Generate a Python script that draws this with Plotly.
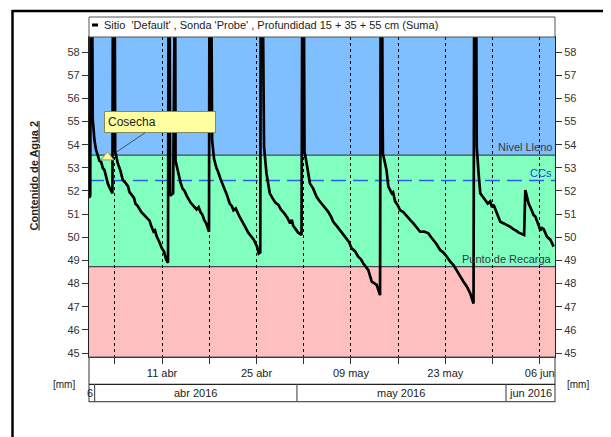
import pandas as pd
import plotly.graph_objects as go

# ---------------- data ----------------
# days since 2016-04-01 00:00 and soil water content (mm); 62 = irrigation spike beyond the top of the chart
dias = [-0.83, -0.65, -0.58, -0.39, -0.28, -0.18, -0.03, 0.19, 0.46, 0.71, 0.97, 1.20, 1.46, 1.71, 1.95, 2.20, 2.45, 2.64,
        2.72, 2.97, 3.05, 3.24, 3.43, 3.80, 4.18, 4.58, 4.96, 5.17, 5.47, 5.84, 6.06, 6.40, 6.91, 7.28, 7.65, 8.14, 8.44,
        8.74, 8.96, 9.18, 9.60, 9.93, 10.30, 10.59, 10.88,
        10.97, 11.12, 11.19, 11.64, 11.71, 11.93, 12.00, 12.23, 12.45, 12.75, 13.05, 13.34, 13.64, 13.94, 14.23, 14.68,
        15.13, 15.42, 15.68, 16.02, 16.26, 16.54, 16.84, 16.96,
        17.03, 17.28, 17.42, 17.70, 18.05, 18.28, 18.69, 19.14, 19.59, 20.03, 20.33, 20.59, 20.92, 21.47, 21.89, 22.33,
        22.78, 23.21, 23.60, 24.07, 24.34, 24.56,
        24.64, 24.89, 25.01, 25.12, 25.48, 25.75, 25.97, 26.39, 26.79, 27.25, 27.61, 28.13, 28.57, 28.99, 29.24, 29.44,
        29.87, 30.18, 30.68,
        30.80, 31.00, 31.06, 31.12, 31.43, 31.62, 31.92, 32.41, 32.91, 33.26, 33.66, 34.15, 34.64, 35.04, 35.38, 35.86,
        36.37, 36.82, 37.37, 37.71, 38.11, 38.60, 39.09, 39.49, 39.84, 40.24, 40.58, 41.09, 41.43, 41.83, 42.10, 42.32,
        42.42, 42.62, 42.69, 42.75, 43.06, 43.28, 43.55, 44.05, 44.25, 44.55, 44.92, 45.29, 45.74, 46.29, 46.78, 47.27,
        47.75, 48.26, 48.86, 49.49, 49.90, 50.24, 50.71, 51.23, 51.68, 52.23, 52.72, 53.21, 53.69, 54.21, 54.65, 55.20,
        55.69, 56.18,
        56.29, 56.55, 56.66, 56.93, 57.18, 57.55, 57.92, 58.29, 58.66, 58.91, 59.15, 59.65, 60.15, 60.67, 61.14, 61.63,
        62.08, 62.37, 62.89, 63.37, 63.68, 63.86, 64.08, 64.35, 64.75, 65.09, 65.34, 65.59, 65.86, 66.08, 66.34, 66.58,
        67.08, 67.57, 68.06]
contenido = [51.7, 51.8, 62, 62, 55.1, 54.6, 54.2, 53.8, 53.48, 53.3, 53.26, 53.0, 52.9, 52.6, 52.33, 52.15, 51.97, 51.9,
             62, 62, 53.7, 53.4, 53.2, 52.9, 52.47, 52.35, 52.2, 51.95, 51.85, 51.7, 51.45, 51.35, 51.1, 50.98, 50.85,
             50.72, 50.45, 50.25, 50.3, 50.05, 49.8, 49.55, 49.37, 49.05, 48.9,
             62, 62, 51.8, 51.9, 62, 62, 53.3, 53.0, 52.6, 52.35, 52.1, 52.0, 51.8, 51.65, 51.5, 51.35,
             51.2, 51.3, 51.1, 50.95, 50.74, 50.6, 50.3, 50.24,
             62, 62, 54.2, 53.4, 53.0, 52.85, 52.5, 52.2, 51.85, 51.46, 51.35, 51.17, 51.25, 50.9, 50.65, 50.45,
             50.2, 50.02, 49.9, 49.6, 49.3, 49.35,
             62, 62, 55.2, 53.9, 52.76, 52.3, 51.9, 51.68, 51.5, 51.4, 51.2, 51.03, 50.85, 50.6, 50.75, 50.5,
             50.31, 50.2, 50.1,
             62, 62, 55.2, 53.7, 53.2, 52.8, 52.33, 52.1, 51.75, 51.6, 51.46, 51.25, 51.1, 50.9, 50.67, 50.5,
             50.3, 50.15, 49.95, 49.8, 49.52, 49.4, 49.16, 49.05, 48.87, 48.7, 48.58, 48.08, 48.0, 47.94, 47.7, 47.5,
             62, 62, 55.5, 53.6, 53.2, 52.9, 52.2, 51.9, 51.95, 51.55, 51.4, 51.17, 51.1, 50.9, 50.75, 50.6,
             50.4, 50.24, 50.25, 50.17, 50.0, 49.88, 49.7, 49.45, 49.35, 49.16, 48.95, 48.8, 48.55, 48.3, 48.1, 47.87,
             47.58, 47.14,
             62, 62, 53.9, 52.76, 51.9, 51.75, 51.6, 51.46, 51.55, 51.3, 51.4, 51.03, 50.67, 50.6, 50.53, 50.45,
             50.35, 50.31, 50.2, 50.14, 50.1, 52.04, 51.8, 51.46, 51.2, 50.96, 50.9, 50.74, 50.5, 50.3, 50.4, 50.35,
             50.02, 49.9, 49.6]

nivel_lleno = 53.55
ccs = 52.45
punto_recarga = 48.73
y_min, y_max = 44.83, 58.65
y_ticks = list(range(45, 59))

x_inicio, x_fin = "2016-03-31 04:00", "2016-06-08 06:15"
etiquetas_fecha = ["2016-04-11", "2016-04-25", "2016-05-09", "2016-05-23", "2016-06-06"]
etiquetas_texto = ["11 abr", "25 abr", "09 may", "23 may", "06 jun"]
semanas_menores = ["2016-04-04", "2016-04-18", "2016-05-02", "2016-05-16", "2016-05-30"]
meses_inicio = ["2016-04-01", "2016-05-01", "2016-06-01"]
meses_centro = ["2016-04-16", "2016-05-16 12:00", "2016-06-04 15:00"]
meses_texto = ["abr 2016", "may 2016", "jun 2016"]

cosecha_dia = 1.9
cosecha_valor = 53.46
flecha_dia = 3.09
flecha_valor = 53.65

titulo_serie = "Sitio  'Default' , Sonda 'Probe' , Profundidad 15 + 35 + 55 cm (Suma)"

# ---------------- figure ----------------
base = pd.Timestamp("2016-04-01")
fechas = base + pd.to_timedelta(dias, unit="D")

FONT = "Liberation Sans, Arial, sans-serif"
OFF = 8                      # page body margin of the html page
W, H = 611 - OFF, 437 - OFF
SL, SR, ST, SB = 89, 555, 37, 357   # plot area on screen
PW, PH = SR - SL, SB - ST


def px_x(p):
    return (p - SL) / PW


def px_y(p):
    return (SB - p) / PH


fig = go.Figure()
fig.add_trace(go.Scatter(x=fechas, y=contenido, mode="lines",
                         line=dict(color="black", width=2.7), name=titulo_serie,
                         showlegend=False, hoverinfo="skip"))
fig.add_trace(go.Scatter(x=[base + pd.Timedelta(days=cosecha_dia)], y=[cosecha_valor], mode="markers",
                         marker=dict(symbol="triangle-up", size=11, color="#FFF59A",
                                     line=dict(color="#9a9a60", width=1)),
                         showlegend=False, hoverinfo="skip"))
fig.add_trace(go.Scatter(x=[fechas[0]], y=[contenido[0]], yaxis="y2", mode="markers",
                         marker=dict(opacity=0), showlegend=False, hoverinfo="skip"))

shapes = []
for y0, y1, col in [(nivel_lleno, 70, "#80BFFF"), (punto_recarga, nivel_lleno, "#80FFBF"), (30, punto_recarga, "#FFBFBF")]:
    shapes.append(dict(type="rect", xref="paper", yref="y", x0=0, x1=1, y0=y0, y1=y1,
                       fillcolor=col, line=dict(width=0), layer="below"))
for yv in [nivel_lleno, punto_recarga]:
    shapes.append(dict(type="line", xref="paper", yref="y", x0=0, x1=1, y0=yv, y1=yv,
                       line=dict(color="#3c4a50", width=1.3), layer="between"))
shapes.append(dict(type="line", xref="paper", yref="y", x0=0, x1=1, y0=ccs, y1=ccs,
                   line=dict(color="#2f5cf0", width=1.6, dash="15px,7px"), layer="between"))

# legend box on top
shapes.append(dict(type="rect", xref="paper", yref="paper", x0=0, x1=1, y0=1, y1=px_y(17),
                   fillcolor="white", line=dict(color="#555", width=1)))
shapes.append(dict(type="line", xref="paper", yref="paper", x0=px_x(92), x1=px_x(98), y0=px_y(25), y1=px_y(25),
                   line=dict(color="black", width=3)))

# date axis box and month row
y_top_row, y_bot_row = px_y(384.3), px_y(401.7)
shapes.append(dict(type="rect", xref="paper", yref="paper", x0=0, x1=1, y0=y_bot_row, y1=0,
                   line=dict(color="#555", width=1.2), fillcolor="rgba(0,0,0,0)"))
shapes.append(dict(type="line", xref="paper", yref="paper", x0=0, x1=1, y0=y_top_row, y1=y_top_row,
                   line=dict(color="#222", width=1.2)))
for m in meses_inicio:
    shapes.append(dict(type="line", xref="x", yref="paper", x0=m, x1=m, y0=y_bot_row, y1=y_top_row,
                       line=dict(color="#555", width=1.2)))

# outer black frame
shapes.append(dict(type="line", xref="paper", yref="paper", x0=px_x(12.5), x1=px_x(12.5), y0=px_y(445), y1=px_y(10),
                   line=dict(color="black", width=2.5)))
shapes.append(dict(type="line", xref="paper", yref="paper", x0=px_x(12), x1=px_x(620), y0=px_y(11), y1=px_y(11),
                   line=dict(color="black", width=2.5)))

annotations = []
annotations.append(dict(xref="paper", yref="paper", x=px_x(102), y=px_y(25), xanchor="left", yanchor="middle",
                        text=titulo_serie, showarrow=False, font=dict(size=11, color="#222", family=FONT)))
for txt, yv, col in [("Nivel Lleno", nivel_lleno, "#333844"), ("CCs", ccs, "#2040f0"),
                     ("Punto de Recarga", punto_recarga, "#333844")]:
    annotations.append(dict(xref="paper", yref="y", x=1, y=yv, xanchor="right", yanchor="bottom", xshift=-1,
                            text=txt, showarrow=False, font=dict(size=11, color=col, family=FONT)))
for c, t in zip(meses_centro, meses_texto):
    annotations.append(dict(xref="x", yref="paper", x=c, y=(y_top_row + y_bot_row) / 2, xanchor="center",
                            yanchor="middle", text=t, showarrow=False, font=dict(size=11, color="#222", family=FONT)))
annotations.append(dict(xref="x", yref="paper", x=meses_inicio[0], y=(y_top_row + y_bot_row) / 2, xanchor="right",
                        yanchor="middle", xshift=0, text="6", showarrow=False,
                        font=dict(size=11, color="#222", family=FONT)))
for xp in [64, 578]:
    annotations.append(dict(xref="paper", yref="paper", x=px_x(xp), y=px_y(384), xanchor="center",
                            yanchor="middle", text="[mm]", showarrow=False,
                            font=dict(size=10, color="#222", family=FONT)))
annotations.append(dict(xref="paper", yref="paper", x=px_x(33), y=px_y(175.5), xanchor="center", yanchor="middle",
                        textangle=-90, text="<b><u>Contenido de Agua 2</u></b>", showarrow=False,
                        font=dict(size=11, color="#222", family=FONT)))
annotations.append(dict(xref="x", yref="y", x=base + pd.Timedelta(days=flecha_dia), y=flecha_valor,
                        text="Cosecha", showarrow=True, arrowhead=0, arrowwidth=0.8, arrowcolor="#333",
                        ax=45, ay=-30.5, bgcolor="#FFFFA0", bordercolor="#8a8a55", borderwidth=1, borderpad=3,
                        width=104, height=14, align="left", font=dict(size=12, color="#222", family=FONT)))

yaxis_common = dict(range=[y_min, y_max], tickmode="array", tickvals=y_ticks, ticks="outside", ticklen=6,
                    tickcolor="#333", showgrid=False, zeroline=False,
                    tickfont=dict(size=11, color="#333", family=FONT))

fig.update_layout(
    width=W, height=H,
    margin=dict(l=SL - OFF, r=W - (SR - OFF), t=ST - OFF, b=H - (SB - OFF), autoexpand=False),
    paper_bgcolor="white", plot_bgcolor="rgba(0,0,0,0)",
    showlegend=False,
    xaxis=dict(type="date", range=[x_inicio, x_fin], tickmode="array", tickvals=etiquetas_fecha,
               ticktext=etiquetas_texto, ticks="outside", ticklen=6, tickcolor="#333",
               showgrid=True, gridcolor="black", gridwidth=1, griddash="dot",
               showline=True, linecolor="#222", linewidth=1.2, mirror=True, zeroline=False,
               tickfont=dict(size=11, color="#222", family=FONT),
               minor=dict(tickmode="array", tickvals=semanas_menores, ticks="outside", ticklen=6,
                          tickcolor="#333", showgrid=True, gridcolor="black", gridwidth=1, griddash="dot")),
    yaxis=dict(**yaxis_common, showline=True, linecolor="#222", linewidth=1.2, mirror=True),
    yaxis2=dict(**yaxis_common, overlaying="y", side="right", matches="y"),
    shapes=shapes, annotations=annotations,
)

fig.write_html("out.html")
